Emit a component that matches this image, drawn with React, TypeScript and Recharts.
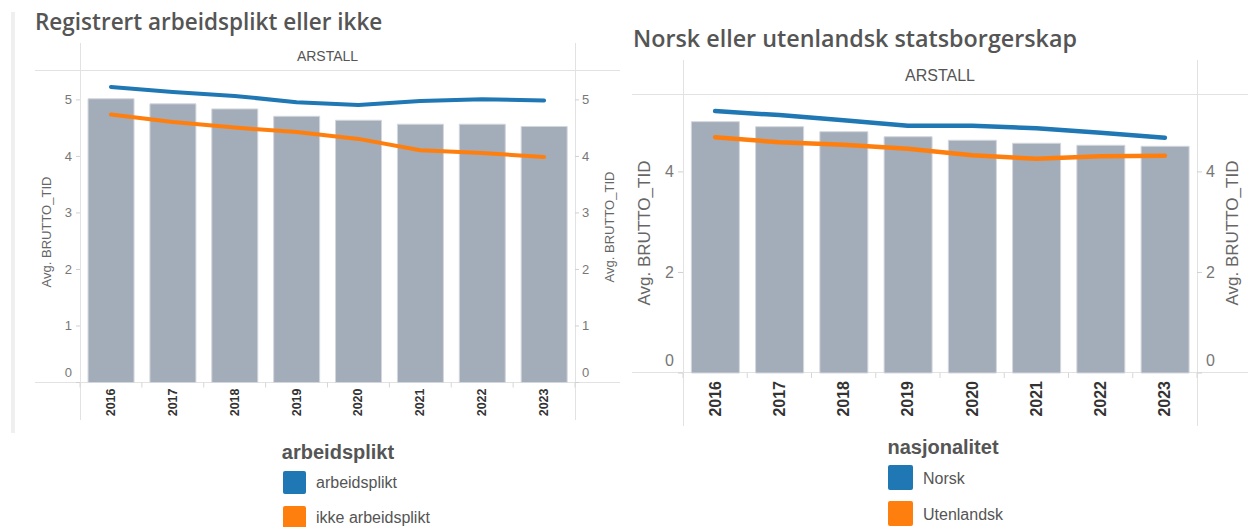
import React from 'react';
import { ComposedChart, Bar, Line, XAxis, YAxis } from 'recharts';

const years = ['2016', '2017', '2018', '2019', '2020', '2021', '2022', '2023'];

const arbeidspliktBars = [5.02, 4.93, 4.84, 4.71, 4.64, 4.57, 4.57, 4.53];
const arbeidspliktLine = [5.23, 5.14, 5.07, 4.96, 4.91, 4.98, 5.01, 4.99];
const ikkeArbeidspliktLine = [4.74, 4.61, 4.51, 4.43, 4.31, 4.11, 4.06, 3.99];

const nasjonalitetBars = [5.0, 4.9, 4.8, 4.7, 4.63, 4.57, 4.53, 4.51];
const norskLine = [5.21, 5.13, 5.03, 4.92, 4.92, 4.87, 4.78, 4.68];
const utenlandskLine = [4.69, 4.59, 4.54, 4.46, 4.33, 4.26, 4.31, 4.32];

const leftTicks = [0, 1, 2, 3, 4, 5];
const rightTicks = [0, 2, 4];

const data1 = years.map((y, i) => ({
  year: y,
  total: arbeidspliktBars[i],
  a: arbeidspliktLine[i],
  b: ikkeArbeidspliktLine[i],
}));
const data2 = years.map((y, i) => ({
  year: y,
  total: nasjonalitetBars[i],
  a: norskLine[i],
  b: utenlandskLine[i],
}));

const BLUE = '#1f77b4';
const ORANGE = '#ff7f0e';
const BAR = '#a3acb9';
const FRAME = '#e2e2e2';

const makeYTick = (fontSize: number, zeroShift: number) => (props: any) => {
  const { x, y, payload, textAnchor } = props;
  const dy = payload.value === 0 ? -zeroShift : 0;
  return (
    <text x={x} y={y + dy} textAnchor={textAnchor} dominantBaseline="central" fontSize={fontSize}
      fill="#777" fontFamily="Arial, 'Liberation Sans', sans-serif">
      {payload.value}
    </text>
  );
};

const makeXTick = (fontSize: number, margin: number) => (props: any) => {
  const { x, y, payload, index, visibleTicksCount } = props;
  const off = payload && typeof payload.offset === 'number' ? payload.offset : 0;
  const ay = y - margin;
  return (
    <g>
      {off > 0 && <line x1={x - off} x2={x - off} y1={ay} y2={ay + 5} stroke="#d6d6d6" />}
      {off > 0 && index === visibleTicksCount - 1 && (
        <line x1={x + off} x2={x + off} y1={ay} y2={ay + 5} stroke="#d6d6d6" />
      )}
      <text transform={`translate(${x},${y}) rotate(-90)`} textAnchor="end" dominantBaseline="central"
        fontSize={fontSize} fill="#333" fontWeight="bold" fontFamily="Arial, 'Liberation Sans', sans-serif">
        {payload.value}
      </text>
    </g>
  );
};

const abs = (s: React.CSSProperties): React.CSSProperties => ({ position: 'absolute', ...s });

const hLine = (left: number, top: number, width: number) => (
  <div style={abs({ left, top, width, height: 1, background: FRAME })} />
);
const vLine = (left: number, top: number, height: number) => (
  <div style={abs({ left, top, width: 1, height, background: FRAME })} />
);

const rotText = (text: string, cx: number, cy: number, fontSize: number) => (
  <div style={abs({
    left: cx - 100, top: cy - 10, width: 200, height: 20, lineHeight: '20px', textAlign: 'center',
    transform: 'rotate(-90deg)', fontSize, color: '#666', whiteSpace: 'nowrap',
    fontFamily: "Arial, 'Liberation Sans', sans-serif",
  })}>{text}</div>
);

const swatch = (left: number, top: number, size: number, color: string) => (
  <div style={abs({ left, top, width: size, height: size, background: color, borderRadius: 2 })} />
);

const legText = (text: string, left: number, cy: number, fontSize: number) => (
  <div style={abs({
    left, top: cy - 12, height: 24, lineHeight: '24px', fontSize, color: '#555', whiteSpace: 'nowrap',
    fontFamily: "Arial, 'Liberation Sans', sans-serif",
  })}>{text}</div>
);

const legTitle = (text: string, cx: number, cy: number) => (
  <div style={abs({
    left: cx - 100, width: 200, top: cy - 14, height: 28, lineHeight: '28px', textAlign: 'center',
    fontSize: 20, fontWeight: 'bold', color: '#555', fontFamily: "Arial, 'Liberation Sans', sans-serif",
  })}>{text}</div>
);

export default function App() {
  return (
    <div style={abs({ left: 0, top: 0, width: 1248, height: 527, background: '#fff', overflow: 'hidden' })}>
      {/* left panel shadow */}
      <div style={abs({ left: 11, top: 12, width: 4, height: 421, background: '#efefef' })} />

      {/* titles */}
      <div style={abs({
        left: 35, top: 6, height: 32, lineHeight: '32px', fontSize: 22.5, fontWeight: 600, color: '#555',
        fontFamily: "'Open Sans', sans-serif", whiteSpace: 'nowrap',
      })}>Registrert arbeidsplikt eller ikke</div>
      <div style={abs({
        left: 633, top: 21, height: 34, lineHeight: '34px', fontSize: 23.3, fontWeight: 600, color: '#555',
        fontFamily: "'Open Sans', sans-serif", whiteSpace: 'nowrap',
      })}>Norsk eller utenlandsk statsborgerskap</div>

      {/* frames chart 1 */}
      {hLine(35, 70, 585)}
      {hLine(35, 382, 585)}
      {vLine(80, 43, 377)}
      {vLine(575, 43, 377)}
      <div style={abs({
        left: 80, width: 495, top: 45, height: 22, lineHeight: '22px', textAlign: 'center', fontSize: 14,
        color: '#555', fontFamily: "Arial, 'Liberation Sans', sans-serif",
      })}>ARSTALL</div>

      {/* frames chart 2 */}
      {hLine(632, 94, 616)}
      {hLine(632, 372, 616)}
      {vLine(683, 60, 366)}
      {vLine(1197, 60, 366)}
      <div style={abs({
        left: 683, width: 514, top: 64, height: 24, lineHeight: '24px', textAlign: 'center', fontSize: 16,
        color: '#555', fontFamily: "Arial, 'Liberation Sans', sans-serif",
      })}>ARSTALL</div>

      {/* chart 1 */}
      <div style={abs({ left: 0, top: 0 })}>
        <ComposedChart width={620} height={440} data={data1} barCategoryGap="13%"
          margin={{ top: 70.5, bottom: 17.5, left: 40, right: 5 }}>
          <XAxis dataKey="year" height={40} tickLine={false} axisLine={false} tickSize={0} tickMargin={6}
            tick={makeXTick(12.5, 6)} interval={0} />
          <YAxis yAxisId="l" width={40} domain={[0, 5.52]} ticks={leftTicks} axisLine={false}
            tickSize={4} tickMargin={4} tickLine={{ stroke: '#d0d0d0' }} tick={makeYTick(13, 10)} />
          <YAxis yAxisId="r" orientation="right" width={40} domain={[0, 5.52]} ticks={leftTicks} axisLine={false}
            tickSize={4} tickMargin={3} tickLine={{ stroke: '#d0d0d0' }} tick={makeYTick(13, 10)} />
          <Bar yAxisId="l" dataKey="total" fill={BAR} stroke="#d3d7dd" strokeWidth={1} isAnimationActive={false} />
          <Line yAxisId="r" dataKey="a" type="linear" stroke={BLUE} strokeWidth={4} dot={false}
            strokeLinecap="round" strokeLinejoin="round" isAnimationActive={false} />
          <Line yAxisId="r" dataKey="b" type="linear" stroke={ORANGE} strokeWidth={4} dot={false}
            strokeLinecap="round" strokeLinejoin="round" isAnimationActive={false} />
        </ComposedChart>
      </div>

      {/* chart 2 */}
      <div style={abs({ left: 620, top: 0 })}>
        <ComposedChart width={628} height={440} data={data2} barCategoryGap="13%"
          margin={{ top: 94.5, bottom: 67 - 45, left: 63 - 45, right: 51 - 45 }}>
          <XAxis dataKey="year" height={45} tickLine={false} axisLine={false} tickSize={0} tickMargin={8}
            tick={makeXTick(16, 8)} interval={0} />
          <YAxis yAxisId="l" width={45} domain={[0, 5.54]} ticks={rightTicks} axisLine={false}
            tickSize={5} tickMargin={4} tickLine={{ stroke: '#d0d0d0' }} tick={makeYTick(16, 13)} />
          <YAxis yAxisId="r" orientation="right" width={45} domain={[0, 5.54]} ticks={rightTicks} axisLine={false}
            tickSize={5} tickMargin={4} tickLine={{ stroke: '#d0d0d0' }} tick={makeYTick(16, 13)} />
          <Bar yAxisId="l" dataKey="total" fill={BAR} stroke="#d3d7dd" strokeWidth={1} isAnimationActive={false} />
          <Line yAxisId="r" dataKey="a" type="linear" stroke={BLUE} strokeWidth={4.5} dot={false}
            strokeLinecap="round" strokeLinejoin="round" isAnimationActive={false} />
          <Line yAxisId="r" dataKey="b" type="linear" stroke={ORANGE} strokeWidth={4.5} dot={false}
            strokeLinecap="round" strokeLinejoin="round" isAnimationActive={false} />
        </ComposedChart>
      </div>

      {/* axis titles */}
      {rotText('Avg. BRUTTO_TID', 47, 232, 13)}
      {rotText('Avg. BRUTTO_TID', 610, 227, 13)}
      {rotText('Avg. BRUTTO_TID', 645, 233, 17)}
      {rotText('Avg. BRUTTO_TID', 1233, 233, 17)}

      {/* legend 1 */}
      {legTitle('arbeidsplikt', 338, 452)}
      {swatch(283, 471, 23, BLUE)}
      {legText('arbeidsplikt', 316, 483, 16)}
      {swatch(283, 506, 23, ORANGE)}
      {legText('ikke arbeidsplikt', 316, 518, 16)}

      {/* legend 2 */}
      {legTitle('nasjonalitet', 943, 447)}
      {swatch(888, 465, 25, BLUE)}
      {legText('Norsk', 923, 479, 16)}
      {swatch(888, 501, 25, ORANGE)}
      {legText('Utenlandsk', 923, 515, 16)}
    </div>
  );
}
